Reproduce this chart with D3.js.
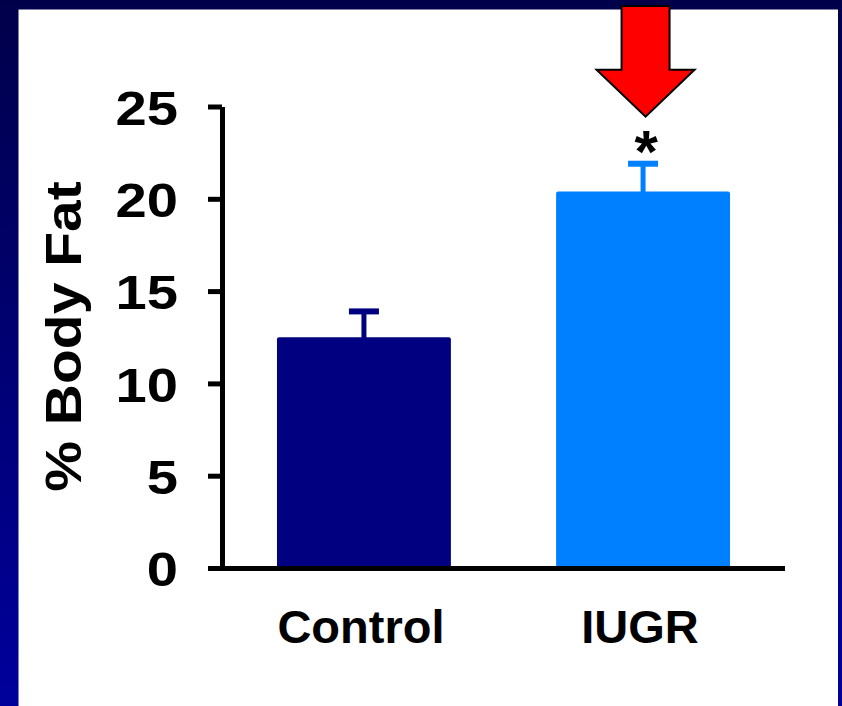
<!DOCTYPE html>
<html>
<head>
<meta charset="utf-8">
<script src="https://cdn.jsdelivr.net/npm/d3@7"></script>
<style>
  html, body { margin: 0; padding: 0; background: #000070; }
  svg { display: block; }
</style>
</head>
<body>
<script>
// ---- data ----
const categories = ["Control", "IUGR"];
const means = [12.5, 20.4];
const errors = [1.4, 1.5];
const barColors = ["#000080", "#0080FF"];
const yTicks = [0, 5, 10, 15, 20, 25];
const yLabel = "% Body Fat";
const sigMarks = ["", "*"];

const W = 842, H = 706;
const svg = d3.select("body").append("svg").attr("width", W).attr("height", H);

// background gradient
const defs = svg.append("defs");
const g = defs.append("linearGradient").attr("id", "bg").attr("x1", 0).attr("y1", 0).attr("x2", 0).attr("y2", 1);
g.append("stop").attr("offset", "0%").attr("stop-color", "#00004a");
g.append("stop").attr("offset", "100%").attr("stop-color", "#00009c");
svg.append("rect").attr("width", W).attr("height", H).attr("fill", "url(#bg)");
svg.append("rect").attr("x", 18.5).attr("y", 9.5).attr("width", 819.5).attr("height", 697).attr("fill", "#ffffff");

const FONT = "'Liberation Sans', Arial, Helvetica, sans-serif";

// scales
const axisX = 222, axisRight = 785;
const y = d3.scaleLinear().domain([0, 25]).range([568, 106.5]);
const x = d3.scaleBand().domain(categories).range([axisX, axisRight]).paddingInner(0.377).paddingOuter(0.197);

// y axis
const tickLen = 14;
const stretch = 1.17;
const yAxis = svg.append("g").attr("transform", `translate(${axisX},0)`)
  .call(d3.axisLeft(y).tickValues(yTicks).tickSize(tickLen).tickSizeOuter(0).tickPadding(44 / stretch - tickLen));
yAxis.select(".domain").attr("stroke", "#000").attr("stroke-width", 5);
yAxis.selectAll(".tick line").attr("stroke", "#000").attr("stroke-width", 5);
yAxis.selectAll(".tick text")
  .attr("fill", "#000")
  .attr("font-family", FONT).attr("font-weight", "bold").attr("font-size", 48)
  .attr("dy", "0.37em")
  .attr("transform", `scale(${stretch},1)`);

// bars
svg.selectAll("rect.bar").data(categories).join("rect")
  .attr("class", "bar")
  .attr("x", d => x(d))
  .attr("width", x.bandwidth())
  .attr("y", (d, i) => y(means[i]))
  .attr("height", (d, i) => y(0) - y(means[i]))
  .attr("rx", 2)
  .attr("fill", (d, i) => barColors[i]);

// error bars (upper only)
const capW = 30, stemW = 5, capH = 6;
categories.forEach((c, i) => {
  const cx = x(c) + x.bandwidth() / 2;
  svg.append("rect").attr("x", cx - stemW / 2).attr("width", stemW)
    .attr("y", y(means[i] + errors[i])).attr("height", y(means[i]) - y(means[i] + errors[i]) + 1)
    .attr("fill", barColors[i]);
  svg.append("rect").attr("x", cx - capW / 2).attr("width", capW)
    .attr("y", y(means[i] + errors[i]) - capH / 2).attr("height", capH)
    .attr("fill", barColors[i]);
});

// x axis line
svg.append("line")
  .attr("x1", axisX - tickLen).attr("x2", axisRight)
  .attr("y1", y(0) + 0.5).attr("y2", y(0) + 0.5)
  .attr("stroke", "#000").attr("stroke-width", 5);

// category labels
svg.selectAll("text.cat").data(categories).join("text")
  .attr("class", "cat")
  .attr("x", d => x(d) + x.bandwidth() / 2 - 3)
  .attr("y", y(0) + 75)
  .attr("text-anchor", "middle")
  .attr("font-family", FONT).attr("font-weight", "bold").attr("font-size", 47)
  .attr("fill", "#000")
  .text(d => d);

// y label
svg.append("text")
  .attr("transform", `translate(81,336.5) rotate(-90) scale(1.14,1)`)
  .attr("text-anchor", "middle")
  .attr("font-family", FONT).attr("font-weight", "bold").attr("font-size", 50)
  .attr("fill", "#000")
  .text(yLabel);

// significance star + arrow
categories.forEach((c, i) => {
  if (!sigMarks[i]) return;
  const cx = x(c) + x.bandwidth() / 2;
  const top = y(means[i] + errors[i]);
  svg.append("text")
    .attr("x", cx + 3).attr("y", top + 8)
    .attr("text-anchor", "middle")
    .attr("font-family", FONT).attr("font-weight", "bold").attr("font-size", 60)
    .attr("fill", "#000")
    .text(sigMarks[i]);
  const tipY = top - 47, shoulderY = tipY - 47, topY = 6;
  const ax = cx + 2.5;
  const pts = [
    [ax - 24, topY], [ax + 24, topY], [ax + 24, shoulderY], [ax + 49, shoulderY],
    [ax, tipY], [ax - 49, shoulderY], [ax - 24, shoulderY]
  ];
  svg.append("polygon")
    .attr("points", pts.map(p => p.join(",")).join(" "))
    .attr("fill", "#ff0000").attr("stroke", "#000").attr("stroke-width", 2)
    .attr("stroke-linejoin", "miter");
});
</script>
</body>
</html>
